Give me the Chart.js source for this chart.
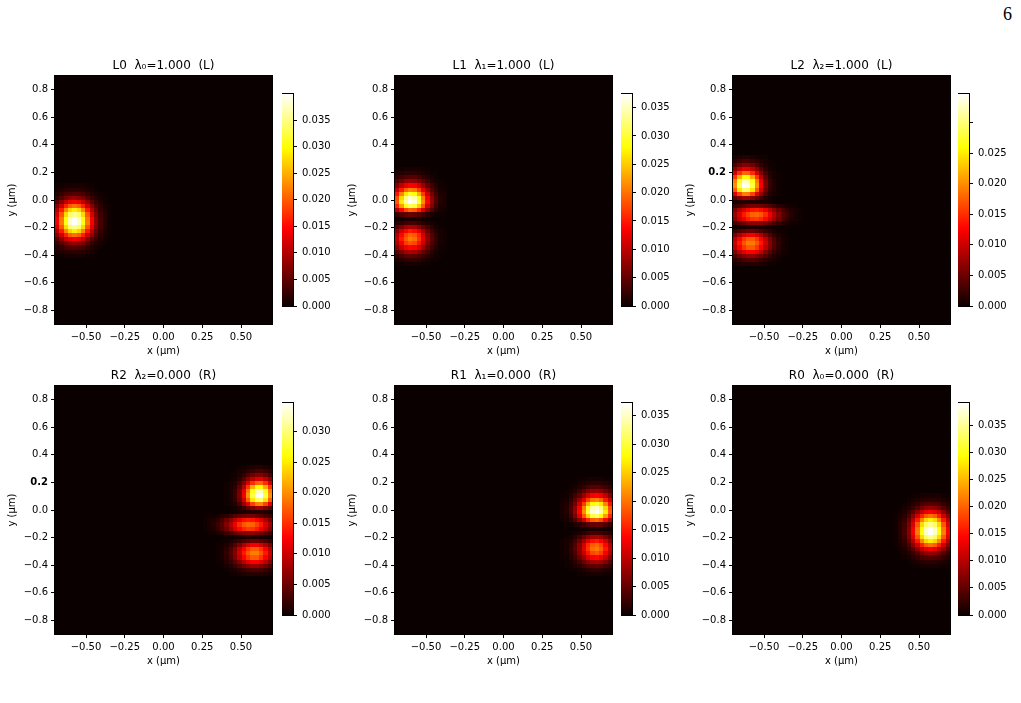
<!DOCTYPE html>
<html>
<head>
<meta charset="utf-8">
<script src="https://cdn.jsdelivr.net/npm/chart.js@4"></script>
<style>
  body { margin: 0; background: #fff; width: 1021px; height: 703px; position: relative; overflow: hidden; }
  canvas { position: absolute; }
  #pageNo { position: absolute; left: 1003px; top: 4px; font: 18px "Liberation Serif", serif; color: #000; }
</style>
</head>
<body>
<div id="pageNo">6</div>
<script>
Chart.defaults.font.family = '"DejaVu Sans", sans-serif';
Chart.defaults.color = '#000';

// axes
const xTicks = [-0.5, -0.25, 0, 0.25, 0.5];
const yTicks = [-0.8, -0.6, -0.4, -0.2, 0, 0.2, 0.4, 0.6, 0.8];
const cbTicks = [0, 0.005, 0.01, 0.015, 0.02, 0.025, 0.03, 0.035];
const xRange = [-0.7, 0.7];
const yRange = [-0.9, 0.9];
const nCols = 50, nRows = 60;

// panels, row 1 then row 2
const panelNames = ['L0', 'L1', 'L2', 'R2', 'R1', 'R0'];
const lambdaLabels = ['λ₀=1.000', 'λ₁=1.000', 'λ₂=1.000', 'λ₂=0.000', 'λ₁=0.000', 'λ₀=0.000'];
const sides = ['L', 'L', 'L', 'R', 'R', 'R'];
const peakValues = [0.0399, 0.0374, 0.0347, 0.0347, 0.0372, 0.0391];
const modeOf = [0, 1, 2, 2, 1, 0];

// density, percent of panel peak; rows from top (y = 0.9) down, cols from the left wall
// the R panels show the same modes against the right wall
const gridL0 = [
  [1,1,2,2,2,2,2,1,1,0,0,0,0],
  [2,3,4,5,5,5,4,3,2,1,0,0,0],
  [4,6,9,10,11,10,9,6,4,2,1,0,0],
  [7,11,16,19,21,19,16,11,7,4,2,1,0],
  [12,19,27,33,35,33,27,19,12,7,3,1,0],
  [19,29,41,50,53,50,41,29,19,10,5,2,1],
  [25,40,56,68,72,68,56,40,25,14,6,3,1],
  [31,49,69,84,89,84,69,49,31,17,8,4,1],
  [35,54,76,93,99,93,76,54,35,19,9,4,1],
  [35,55,77,94,100,94,77,55,35,19,9,4,1],
  [31,49,69,84,89,84,69,49,31,17,8,4,1],
  [25,40,56,68,72,68,56,40,25,14,6,3,1],
  [19,29,41,50,53,50,41,29,19,10,5,2,1],
  [12,19,27,33,35,33,27,19,12,7,3,1,0],
  [7,11,16,19,21,19,16,11,7,4,2,1,0],
  [4,6,9,10,11,10,9,6,4,2,1,0,0],
  [2,3,4,5,5,5,4,3,2,1,0,0,0],
  [1,1,2,2,2,2,2,1,1,0,0,0,0]
];
const gridL1 = [
  [1,1,2,2,2,2,1,1,0,0,0,0],
  [3,4,5,5,5,4,3,2,1,1,0,0],
  [6,8,10,11,11,9,6,4,2,1,0,0],
  [11,15,19,21,20,17,12,8,4,2,1,0],
  [18,26,33,36,35,29,21,13,8,4,1,1],
  [28,40,51,56,54,45,32,21,12,6,2,1],
  [39,56,71,78,75,62,45,29,16,8,3,2],
  [48,68,86,95,91,76,55,35,20,10,4,2],
  [50,72,91,100,96,80,58,37,21,10,4,2],
  [42,60,76,84,81,67,49,31,18,8,3,2],
  [26,37,47,52,50,42,30,19,11,5,2,1],
  [7,10,13,14,13,11,8,5,3,1,1,0],
  [1,1,2,2,2,2,1,1,0,0,0,0],
  [5,6,8,9,9,7,5,3,2,1,0,0],
  [12,17,22,24,23,19,14,9,5,2,1,0],
  [20,29,36,40,38,32,23,15,8,4,2,1],
  [26,37,47,52,50,42,30,19,11,5,2,1],
  [28,40,50,55,53,44,32,20,12,6,2,1],
  [25,35,45,49,47,39,28,18,10,5,2,1],
  [19,27,34,37,36,30,21,14,8,4,1,1],
  [12,17,22,24,23,19,14,9,5,2,1,0],
  [7,9,12,13,12,10,8,5,3,1,1,0],
  [3,4,5,6,6,5,3,2,1,1,0,0],
  [1,1,2,2,2,2,1,1,0,0,0,0]
];
const gridL2 = [
  [2,3,4,4,3,2,1,1,0,0,0,0,0,0,0,0],
  [5,7,9,9,7,5,3,2,1,0,0,0,0,0,0,0],
  [10,15,18,18,15,10,6,3,1,1,0,0,0,0,0,0],
  [19,26,32,31,26,19,11,5,2,1,0,0,0,0,0,0],
  [30,43,52,51,43,30,18,9,4,2,1,0,0,0,0,0],
  [44,62,75,74,62,44,26,13,5,2,1,0,0,0,0,0],
  [55,77,94,92,77,55,33,16,7,3,1,0,0,0,0,0],
  [58,82,100,98,82,58,35,17,7,3,1,0,0,0,0,0],
  [50,71,86,84,71,50,30,15,6,3,1,0,0,0,0,0],
  [32,46,56,55,46,32,20,10,4,2,1,0,0,0,0,0],
  [13,18,22,22,18,13,8,4,2,1,0,0,0,0,0,0],
  [2,3,4,4,3,3,2,2,1,0,0,0,0,0,0,0],
  [7,9,12,14,16,16,15,13,11,8,5,4,2,1,1,0],
  [17,24,30,36,39,40,38,33,26,20,14,9,5,3,2,1],
  [22,31,40,46,51,52,49,43,34,25,18,11,7,4,2,1],
  [19,27,34,40,44,45,42,37,30,22,15,10,6,3,2,1],
  [9,12,15,18,20,20,19,16,13,10,7,4,3,1,1,0],
  [1,2,2,3,3,3,2,2,1,1,1,0,0,0,0,0],
  [7,10,12,14,14,12,10,7,5,3,1,1,0,0,0,0],
  [17,24,30,34,34,30,24,17,11,6,3,1,1,0,0,0],
  [26,36,44,50,50,44,36,26,17,10,5,2,1,0,0,0],
  [29,40,49,55,55,49,40,29,18,11,6,2,1,0,0,0],
  [26,36,44,50,50,44,36,26,17,10,5,2,1,0,0,0],
  [18,26,32,36,36,32,26,18,12,7,4,1,1,0,0,0],
  [11,15,18,21,21,18,15,11,7,4,2,1,0,0,0,0],
  [5,7,9,10,10,9,7,5,3,2,1,0,0,0,0,0],
  [2,3,4,4,4,4,3,2,1,1,0,0,0,0,0,0]
];
const modeGrids = [gridL0, gridL1, gridL2];
const modeFirstRow = [26, 22, 19];

// layout
const plotLefts = [55, 395, 733];
const plotTops = [76, 386];
const plotW = 217, plotH = 248;
const cbLefts = [282, 621, 958];
const cbOffsets = [15, 14];
const cbW = 11, cbH = 218;

function hot(t) {
  t = Math.max(0, Math.min(1, t));
  const r = t < 0.365079 ? 0.0416 + (1 - 0.0416) * t / 0.365079 : 1;
  const g = t < 0.365079 ? 0 : t < 0.746032 ? (t - 0.365079) / (0.746032 - 0.365079) : 1;
  const b = t < 0.746032 ? 0 : (t - 0.746032) / (1 - 0.746032);
  return `rgb(${Math.round(r * 255)},${Math.round(g * 255)},${Math.round(b * 255)})`;
}

function fmt(v, d) {
  return v < 0 ? '\u2212' + (-v).toFixed(d) : v.toFixed(d);
}

function frame(chart) {
  const { ctx, chartArea: a } = chart;
  ctx.save();
  ctx.strokeStyle = '#000';
  ctx.lineWidth = 1;
  ctx.strokeRect(a.left - 0.5, a.top - 0.5, a.right - a.left + 1, a.bottom - a.top + 1);
  ctx.restore();
}

function makeCanvas(left, top, w, h) {
  const c = document.createElement('canvas');
  c.width = w; c.height = h;
  c.style.left = left + 'px';
  c.style.top = top + 'px';
  document.body.appendChild(c);
  return c;
}

function heatPlugin(grid, firstRow, mirror, peak) {
  return {
    id: 'heat',
    beforeDatasetsDraw(chart) {
      const { ctx, chartArea: a, scales: { x, y } } = chart;
      const dx = (xRange[1] - xRange[0]) / nCols;
      const dy = (yRange[1] - yRange[0]) / nRows;
      ctx.save();
      ctx.fillStyle = hot(0);
      ctx.fillRect(a.left, a.top, a.right - a.left, a.bottom - a.top);
      grid.forEach((row, i) => {
        const yTop = yRange[1] - (firstRow + i) * dy;
        const y0 = Math.round(y.getPixelForValue(yTop));
        const y1 = Math.round(y.getPixelForValue(yTop - dy));
        row.forEach((pct, j) => {
          if (!pct) return;
          const c = mirror ? nCols - 1 - j : j;
          const xl = xRange[0] + c * dx;
          const x0 = Math.round(x.getPixelForValue(xl));
          const x1 = Math.round(x.getPixelForValue(xl + dx));
          const value = pct / 100 * peak;
          ctx.fillStyle = hot(value / peak);
          ctx.fillRect(x0, y0, x1 - x0, y1 - y0);
        });
      });
      ctx.restore();
    },
    afterDraw: frame
  };
}

const cbPlugin = {
  id: 'cbar',
  beforeDatasetsDraw(chart) {
    const { ctx, chartArea: a } = chart;
    const grad = ctx.createLinearGradient(0, a.bottom, 0, a.top);
    for (let k = 0; k <= 40; k++) grad.addColorStop(k / 40, hot(k / 40));
    ctx.save();
    ctx.fillStyle = grad;
    ctx.fillRect(a.left, a.top, a.right - a.left, a.bottom - a.top);
    ctx.restore();
  },
  afterDraw: frame
};

panelNames.forEach((name, p) => {
  const col = p % 3, row = Math.floor(p / 3);
  const mode = modeOf[p];
  const peak = peakValues[p];
  const hideTwo = name === 'L1';
  const boldTwo = name === 'L2' || name === 'R2';

  const canvas = makeCanvas(plotLefts[col] - 55, plotTops[row] - 30, 55 + plotW + 2, 30 + plotH + 45);
  new Chart(canvas, {
    type: 'scatter',
    data: { datasets: [] },
    options: {
      responsive: false, animation: false, devicePixelRatio: 1, events: [],
      layout: { padding: { left: 0, right: 2, top: 0, bottom: 0 } },
      plugins: {
        legend: { display: false },
        tooltip: { enabled: false },
        title: {
          display: true, fullSize: false,
          text: name + '  ' + lambdaLabels[p] + '  (' + sides[p] + ')',
          font: { size: 12, weight: 'normal' },
          padding: { top: 12.8, bottom: 2.8 }
        }
      },
      scales: {
        x: {
          type: 'linear', min: xRange[0], max: xRange[1],
          afterBuildTicks: s => { s.ticks = xTicks.map(v => ({ value: v })); },
          afterFit: s => { s.height = 45; },
          ticks: { font: { size: 10 }, padding: 3, maxRotation: 0, autoSkip: false, callback: v => fmt(v, 2) },
          grid: { drawOnChartArea: false, tickLength: 4, color: '#000' },
          border: { display: false },
          title: { display: true, text: 'x (μm)', font: { size: 10 }, padding: { top: 0, bottom: 12 } }
        },
        y: {
          type: 'linear', min: yRange[0], max: yRange[1],
          afterBuildTicks: s => { s.ticks = yTicks.map(v => ({ value: v })); },
          afterFit: s => { s.width = 55; },
          ticks: {
            padding: 3, autoSkip: false,
            font: c => ({ size: 10, weight: (boldTwo && c.tick && c.tick.value === 0.2) ? 'bold' : 'normal' }),
            callback: v => (hideTwo && v === 0.2) ? '' : fmt(v, 1)
          },
          grid: { drawOnChartArea: false, tickLength: 4, color: '#000' },
          border: { display: false },
          title: { display: true, text: 'y (μm)', font: { size: 10 }, padding: { top: 6, bottom: 0 } }
        }
      }
    },
    plugins: [heatPlugin(modeGrids[mode], modeFirstRow[mode], sides[p] === 'R', peak)]
  });

  const hideCb = name === 'L2' ? 0.03 : null;
  const cbCanvas = makeCanvas(cbLefts[col], plotTops[row] + cbOffsets[row] - 8, cbW + 50, cbH + 16);
  new Chart(cbCanvas, {
    type: 'scatter',
    data: { datasets: [] },
    options: {
      responsive: false, animation: false, devicePixelRatio: 1, events: [],
      layout: { padding: { left: 0, right: 0, top: 8, bottom: 8 } },
      plugins: { legend: { display: false }, tooltip: { enabled: false } },
      scales: {
        x: { display: false, min: 0, max: 1 },
        y: {
          position: 'right', min: 0, max: peak,
          afterBuildTicks: s => { s.ticks = cbTicks.filter(v => v <= peak).map(v => ({ value: v })); },
          afterFit: s => { s.width = 50; },
          ticks: { font: { size: 10 }, padding: 5, autoSkip: false, callback: v => (hideCb !== null && Math.abs(v - hideCb) < 1e-9) ? '' : v.toFixed(3) },
          grid: { drawOnChartArea: false, tickLength: 4, color: '#000' },
          border: { display: false }
        }
      }
    },
    plugins: [cbPlugin]
  });
});
</script>
</body>
</html>
